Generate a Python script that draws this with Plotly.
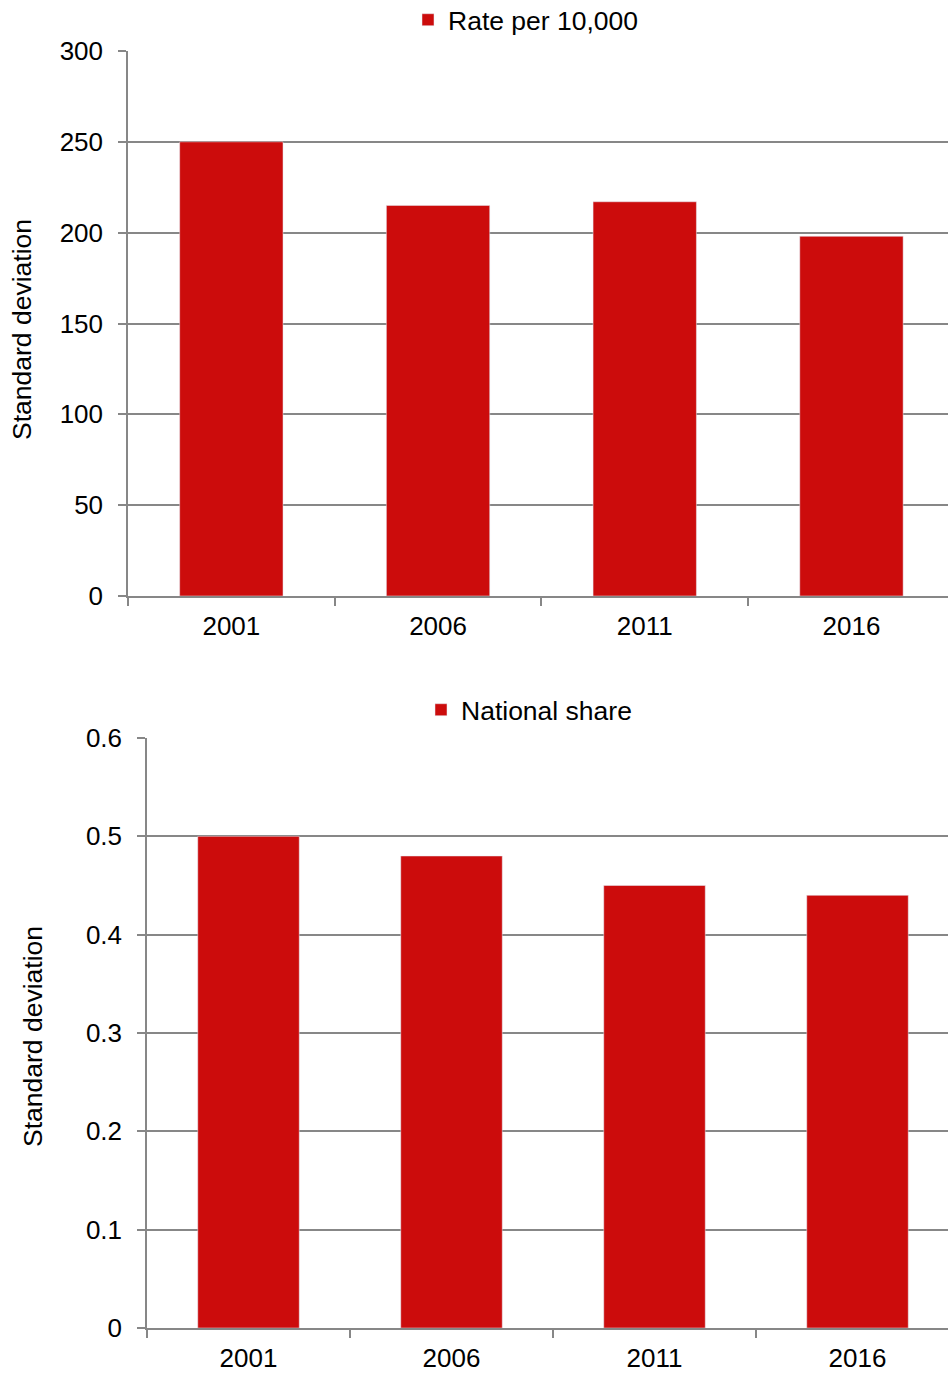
import plotly.graph_objects as go

years = ["2001", "2006", "2011", "2016"]
rate_per_10000 = [250, 215, 217, 198]
national_share = [0.50, 0.48, 0.45, 0.44]
rate_ticks = [0, 50, 100, 150, 200, 250, 300]
share_ticks = [0, 0.1, 0.2, 0.3, 0.4, 0.5, 0.6]
share_tick_text = ["0", "0.1", "0.2", "0.3", "0.4", "0.5", "0.6"]

W, H = 948, 1374
RED = "#CC0C0C"
GRID = "#878787"
FONT = "Liberation Sans, Arial, sans-serif"
FS = 26
FS2 = 26.5

def py(px):
    return 1 - px / H

fig = go.Figure()
fig.add_trace(go.Bar(x=years, y=rate_per_10000, name="Rate per 10,000",
                     marker_color=RED, width=0.5, xaxis="x", yaxis="y",
                     legend="legend", showlegend=True))
fig.add_trace(go.Bar(x=years, y=national_share, name="National share",
                     marker_color=RED, width=0.5, xaxis="x2", yaxis="y2",
                     legend="legend2", showlegend=True))

axis_common = dict(showline=True, linecolor=GRID, linewidth=1.5,
                   ticks="outside", tickcolor=GRID, ticklen=8, tickwidth=1.5,
                   automargin=False,
                   tickfont=dict(family=FONT, size=FS, color="#000"))

# the original plot areas run slightly past the right edge of the picture
top_span = (W - 128) / 206.7
bot_span = (W - 147) / 203.0

fig.update_layout(
    width=W, height=H, margin=dict(l=0, r=0, t=0, b=0, autoexpand=False),
    paper_bgcolor="white", plot_bgcolor="white",
    font=dict(family=FONT, size=FS, color="#000"),
    xaxis=dict(domain=[128 / W, 1], anchor="y", tickson="boundaries",
               range=[-0.5, -0.5 + top_span],
               showgrid=False, ticklabelstandoff=6, **axis_common),
    yaxis=dict(domain=[py(596), py(51)], anchor="x", range=[0, 300],
               tickvals=rate_ticks,
               showgrid=True, gridcolor=GRID, gridwidth=1.5,
               ticklabelstandoff=10, **axis_common),
    xaxis2=dict(domain=[147 / W, 1], anchor="y2", tickson="boundaries",
                range=[-0.5, -0.5 + bot_span],
                showgrid=False, ticklabelstandoff=6, **axis_common),
    yaxis2=dict(domain=[py(1328), py(738)], anchor="x2", range=[0, 0.6],
                tickvals=share_ticks, ticktext=share_tick_text,
                showgrid=True, gridcolor=GRID, gridwidth=1.5,
                ticklabelstandoff=10, **axis_common),
    legend=dict(x=526 / W, y=py(20), xanchor="center", yanchor="middle",
                orientation="h", font=dict(family=FONT, size=FS2),
                itemwidth=30, bgcolor="rgba(0,0,0,0)"),
    legend2=dict(x=529 / W, y=py(710), xanchor="center", yanchor="middle",
                 orientation="h", font=dict(family=FONT, size=FS2),
                 itemwidth=30, bgcolor="rgba(0,0,0,0)"),
    bargap=0.5,
)

fig.add_annotation(text="Standard deviation", textangle=-90, xref="paper", yref="paper",
                   x=22 / W, y=py(330), xanchor="center", yanchor="middle",
                   showarrow=False, font=dict(family=FONT, size=FS2, color="#000"))
fig.add_annotation(text="Standard deviation", textangle=-90, xref="paper", yref="paper",
                   x=33 / W, y=py(1037), xanchor="center", yanchor="middle",
                   showarrow=False, font=dict(family=FONT, size=FS2, color="#000"))

fig.write_html("out.html")
